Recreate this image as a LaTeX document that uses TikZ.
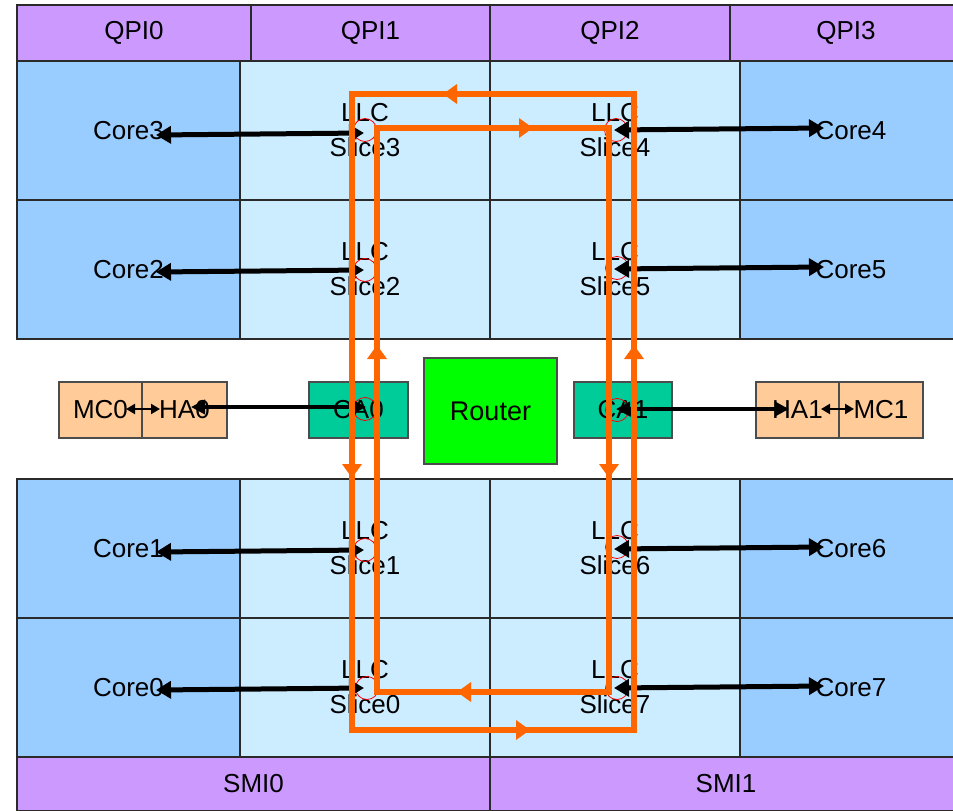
\documentclass[tikz,border=0pt]{standalone}
\usepackage{fontspec}
\setmainfont{Liberation Sans}
\usetikzlibrary{arrows.meta}
\definecolor{qpic}{HTML}{CC99FF}
\definecolor{corec}{HTML}{99CCFF}
\definecolor{slicec}{HTML}{CCECFF}
\definecolor{hac}{HTML}{FFCC99}
\definecolor{cac}{HTML}{00CC99}
\definecolor{routc}{HTML}{00FF00}
\definecolor{ringc}{HTML}{FF6600}
\definecolor{edgec}{HTML}{2A2A2A}
\begin{document}
\begin{tikzpicture}[x=1pt,y=-1pt,
  cell/.style={draw=edgec,line width=1.2pt,inner sep=0pt,outer sep=0pt,
    font=\fontsize{26}{35}\selectfont,align=center},
  qpi/.style={cell,fill=qpic,minimum height=56pt},
  core/.style={cell,fill=corec,minimum width=223pt,minimum height=139pt},
  corer/.style={cell,fill=corec,minimum width=222pt,minimum height=139pt},
  slice/.style={cell,fill=slicec,minimum width=250pt,minimum height=139pt},
  smallbox/.style={cell,draw=black!70,minimum height=56pt},
  probe/.style={draw=red,line width=0.8pt},
  dbl/.style={{Triangle[length=15pt,width=17pt]}-{Triangle[length=15pt,width=17pt]},line width=5pt,black},
  mid/.style={{Triangle[length=14pt,width=14pt]}-{Triangle[length=14pt,width=14pt]},line width=4pt,black},
  tiny/.style={{Triangle[length=9pt,width=10pt]}-{Triangle[length=9pt,width=10pt]},line width=2.4pt,black},
  ring/.style={draw=ringc,line width=6pt,line join=miter},
  ringtip/.style={ringc,line width=6pt,-{Triangle[length=14pt,width=19pt]}}
]
\clip (0,0) rectangle (953,811);
\fill[white] (0,0) rectangle (953,811);

% top QPI bar
\node[qpi,minimum width=234pt] (qpi0) at (134,33) {QPI0};
\node[qpi,minimum width=239pt] (qpi1) at (370.5,33) {QPI1};
\node[qpi,minimum width=240pt] (qpi2) at (610,33) {QPI2};
\node[qpi,minimum width=232pt] (qpi3) at (846,33) {QPI3};

% upper rows
\node[core] (core3) at (128.5,130.5) {Core3};
\node[slice] (slice3) at (365,130.5) {LLC\\Slice3};
\node[slice] (slice4) at (615,130.5) {LLC\\Slice4};
\node[corer] (core4) at (851,130.5) {Core4};
\node[core] (core2) at (128.5,269.5) {Core2};
\node[slice] (slice2) at (365,269.5) {LLC\\Slice2};
\node[slice] (slice5) at (615,269.5) {LLC\\Slice5};
\node[corer] (core5) at (851,269.5) {Core5};

% lower rows
\node[core] (core1) at (128.5,548.5) {Core1};
\node[slice] (slice1) at (365,548.5) {LLC\\Slice1};
\node[slice] (slice6) at (615,548.5) {LLC\\Slice6};
\node[corer] (core6) at (851,548.5) {Core6};
\node[core] (core0) at (128.5,687.5) {Core0};
\node[slice] (slice0) at (365,687.5) {LLC\\Slice0};
\node[slice] (slice7) at (615,687.5) {LLC\\Slice7};
\node[corer] (core7) at (851,687.5) {Core7};

% bottom SMI bar
\node[cell,fill=qpic,minimum width=473pt,minimum height=54pt] (smi0) at (253.5,784) {SMI0};
\node[cell,fill=qpic,minimum width=472pt,minimum height=54pt] (smi1) at (726,784) {SMI1};

% middle band
\node[smallbox,fill=hac,minimum width=83pt] (mc0) at (100.5,410) {MC0};
\node[smallbox,fill=hac,minimum width=85pt] (ha0) at (184.5,410) {HA0};
\node[smallbox,fill=cac,minimum width=99pt] (ca0) at (358.5,410) {CA0};
\node[cell,draw=black!70,fill=routc,minimum width=133pt,minimum height=106pt,font=\fontsize{27}{30}\selectfont] (router) at (490.5,411) {Router};
\node[smallbox,fill=cac,minimum width=98pt] (ca1) at (623,410) {CA1};
\node[smallbox,fill=hac,minimum width=83pt] (ha1) at (797.5,410) {HA1};
\node[smallbox,fill=hac,minimum width=84pt] (mc1) at (881,410) {MC1};

% ring stop probes
\foreach \n/\px/\py in {s3/365/130, s2/365/270, s1/365/550, s0/367/688,
                        s4/616/130, s5/617/268, s6/617/547, s7/617/688,
                        c0/365/409, c1/617/410}
  \draw[probe] (\px,\py) circle (11.5pt);

% port coordinates
\coordinate (pc3) at (156,135); \coordinate (ps3) at (364,133);
\coordinate (pc2) at (156,272); \coordinate (ps2) at (364,270);
\coordinate (pc1) at (156,552); \coordinate (ps1) at (364,550);
\coordinate (pc0) at (156,690); \coordinate (ps0) at (364,688);
\coordinate (ps4) at (614,130); \coordinate (pc4) at (824,128);
\coordinate (ps5) at (614,269); \coordinate (pc5) at (824,267);
\coordinate (ps6) at (614,549); \coordinate (pc6) at (824,547);
\coordinate (ps7) at (614,688); \coordinate (pc7) at (824,686);
\coordinate (pmc0) at (126,409); \coordinate (pha0a) at (160,409);
\coordinate (pha0) at (191,407); \coordinate (pca0) at (366,407);
\coordinate (pca1) at (616,409); \coordinate (pha1) at (789,409);
\coordinate (pha1b) at (821,409); \coordinate (pmc1) at (854,409);

% core <-> slice links
\draw[dbl] (pc3) -- (ps3);
\draw[dbl] (pc2) -- (ps2);
\draw[dbl] (pc1) -- (ps1);
\draw[dbl] (pc0) -- (ps0);
\draw[dbl] (ps4) -- (pc4);
\draw[dbl] (ps5) -- (pc5);
\draw[dbl] (ps6) -- (pc6);
\draw[dbl] (ps7) -- (pc7);

% middle links
\draw[tiny] (pmc0) -- (pha0a);
\draw[mid] (pha0) -- (pca0);
\draw[mid] (pca1) -- (pha1);
\draw[tiny] (pha1b) -- (pmc1);

% rings
\draw[ring] (352,94) rectangle (634,730);
\draw[ring] (377,128) rectangle (609,692);

% ring direction arrows
\draw[ringtip] (470,94) -- (443,94);
\draw[ringtip] (352,450) -- (352,478);
\draw[ringtip] (500,730) -- (530,730);
\draw[ringtip] (634,372) -- (634,345);
\draw[ringtip] (505,128) -- (533,128);
\draw[ringtip] (609,450) -- (609,478);
\draw[ringtip] (485,692) -- (457,692);
\draw[ringtip] (377,372) -- (377,345);
\end{tikzpicture}
\end{document}
